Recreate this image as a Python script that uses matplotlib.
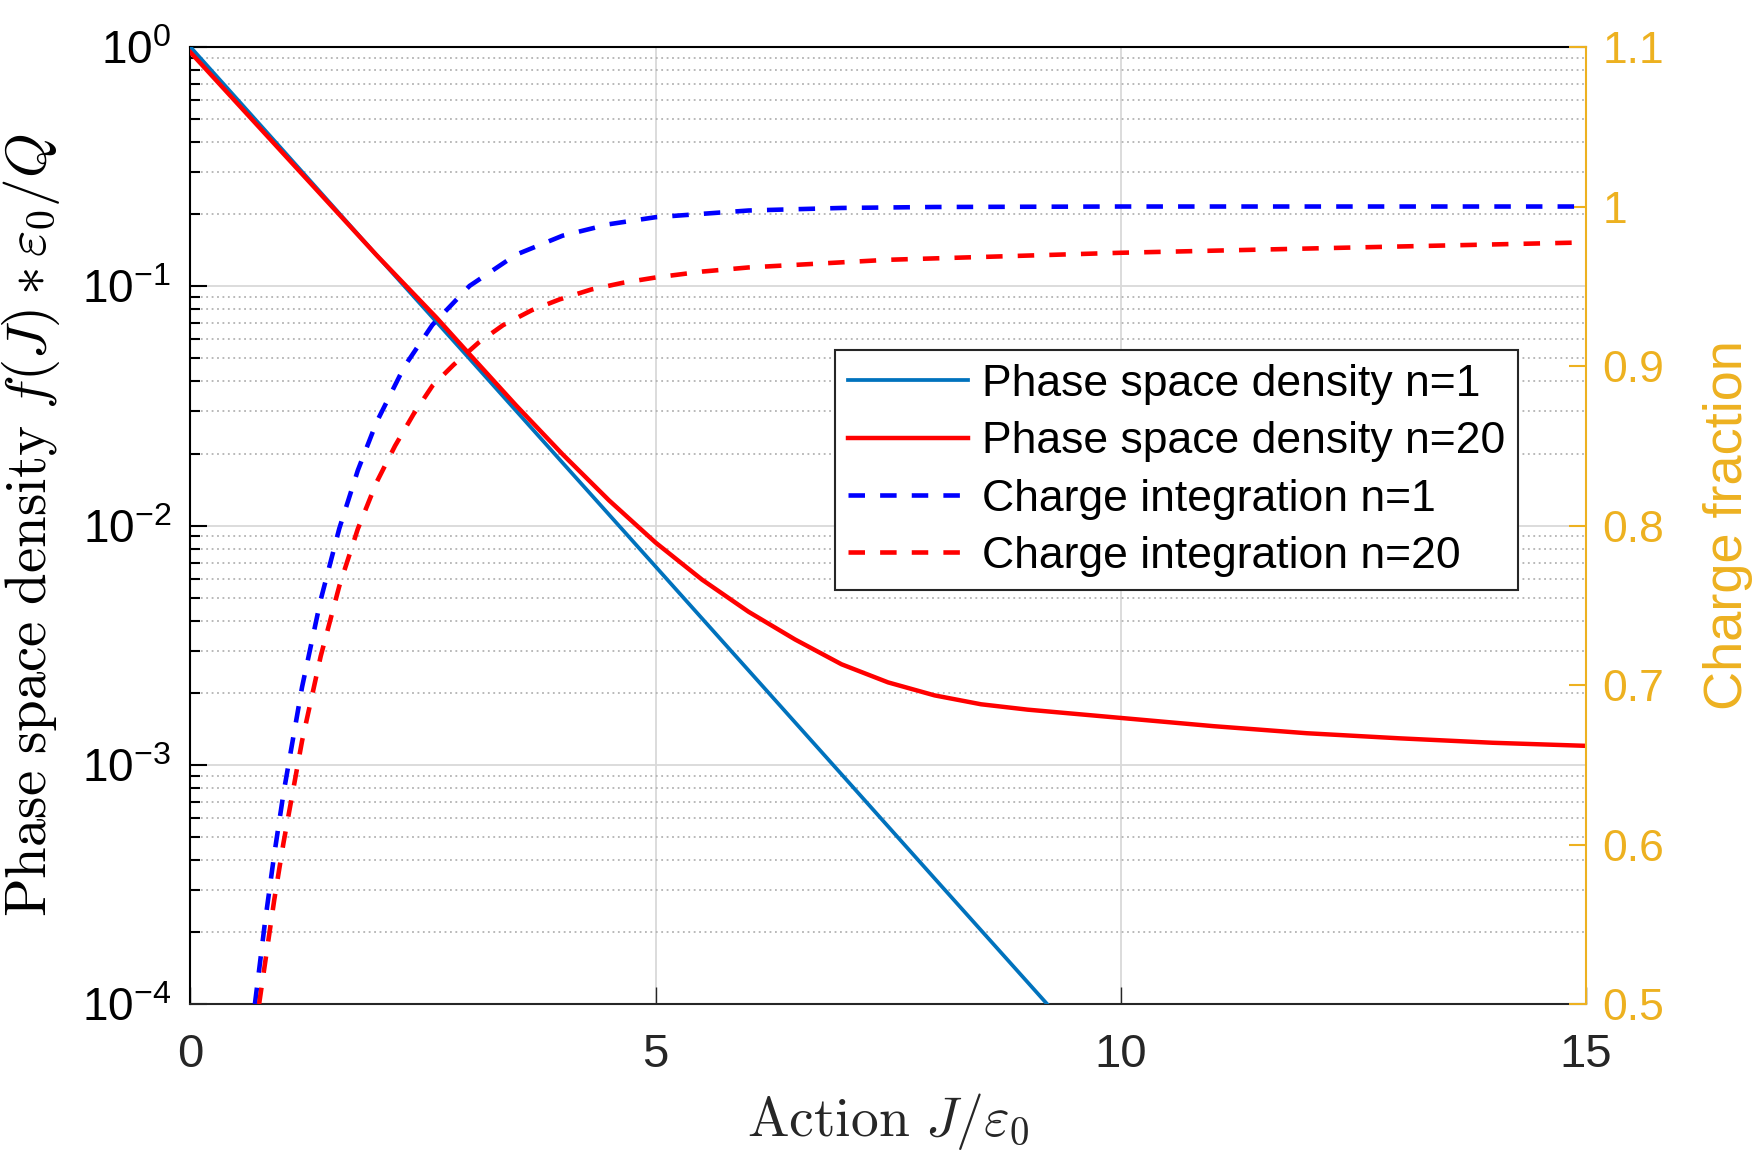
import matplotlib
matplotlib.use("Agg")
import matplotlib.pyplot as plt
from matplotlib.ticker import LogLocator, NullFormatter, NullLocator

# ---------------- data ----------------
J_dens_n1 = [0, 1, 2, 3, 4, 5, 6, 7, 8, 9.21]
f_dens_n1 = [1.0, 0.368, 0.135, 0.0498, 0.0183, 0.00674, 0.00248, 0.000912, 0.000335, 0.0001]

J_dens_n20 = [0, 1, 2, 2.644, 3.0, 3.5, 4.0, 4.5, 5.0, 5.5, 6.0, 6.5, 7.0, 7.5, 8.0, 8.5, 9.0,
              10, 11, 12, 13, 14, 15]
f_dens_n20 = [0.95, 0.358, 0.135, 0.0740, 0.0520, 0.0318, 0.01986, 0.01274, 0.00849, 0.00594,
              0.00436, 0.00334, 0.00263, 0.00221, 0.00195, 0.00179, 0.00170, 0.00157, 0.00145,
              0.001355, 0.00129, 0.001236, 0.0012]

J_charge_n1 = [0.693, 0.8, 0.9, 1.0, 1.2, 1.4, 1.6, 1.8, 2.0, 2.3, 2.6, 3.0, 3.5, 4.0, 4.5, 5, 6, 7, 8, 10, 15]
q_charge_n1 = [0.500, 0.5507, 0.5934, 0.6321, 0.6988, 0.7534, 0.7981, 0.8347, 0.8647, 0.8997, 0.9257,
               0.9502, 0.9698, 0.9817, 0.9889, 0.9933, 0.9975, 0.9991, 0.9997, 1.0, 1.0]

J_charge_n20 = [0.738, 0.9, 1.0, 1.2, 1.4, 1.6, 1.8, 2.0, 2.2, 2.4, 2.6, 2.826, 3.1, 3.36, 3.67,
                3.97, 4.31, 4.65, 5.0, 5.5, 6.0, 7.5, 10, 12.5, 15]
q_charge_n20 = [0.500, 0.565, 0.601, 0.665, 0.718, 0.762, 0.798, 0.827, 0.850, 0.870, 0.8875,
                0.9006, 0.9148, 0.9256, 0.935, 0.9418, 0.948, 0.9522, 0.9555, 0.9592, 0.9618,
                0.9666, 0.971, 0.9743, 0.9775]

x_ticks = [0, 5, 10, 15]
x_ticklabels = ["0", "5", "10", "15"]
y_ticks = [1e-4, 1e-3, 1e-2, 1e-1, 1]
y_ticklabels = [r"$\mathdefault{10^{-4}}$", r"$\mathdefault{10^{-3}}$", r"$\mathdefault{10^{-2}}$",
                r"$\mathdefault{10^{-1}}$", r"$\mathdefault{10^{0}}$"]
y2_ticks = [0.5, 0.6, 0.7, 0.8, 0.9, 1.0, 1.1]
y2_ticklabels = ["0.5", "0.6", "0.7", "0.8", "0.9", "1", "1.1"]

legend_labels = ["Phase space density n=1", "Phase space density n=20",
                 "Charge integration n=1", "Charge integration n=20"]

# ---------------- style ----------------
plt.rcParams["font.family"] = ["Liberation Sans", "DejaVu Sans"]
plt.rcParams["mathtext.fontset"] = "cm"

ORANGE = "#EDB120"
AXC = "#262626"
FS = 32

fig = plt.figure(figsize=(17.57, 11.55), dpi=100)
ax1 = fig.add_axes([0.1084, 0.1307, 0.7941, 0.8286])
ax2 = ax1.twinx()

# left axis: phase space density
l1, = ax1.plot(J_dens_n1, f_dens_n1, color="#0072BD", lw=2.7, zorder=3)
l2, = ax1.plot(J_dens_n20, f_dens_n20, color="#FF0000", lw=3.2, zorder=3)
ax1.set_yscale("log")
ax1.set_xlim(0, 15)
ax1.set_ylim(1e-4, 1)
ax1.set_xticks(x_ticks)
ax1.set_xticklabels(x_ticklabels)
ax1.set_yticks(y_ticks)
ax1.set_yticklabels(y_ticklabels)
ax1.yaxis.set_minor_locator(LogLocator(base=10, subs=[2, 3, 4, 5, 6, 7, 8, 9], numticks=20))
ax1.yaxis.set_minor_formatter(NullFormatter())
ax1.xaxis.set_minor_locator(NullLocator())

ax1.grid(which="major", axis="both", color="#d9d9d9", lw=1.3, ls="-", zorder=0)
ax1.grid(which="minor", axis="y", color="#b3b3b3", lw=1.3, ls=(0, (1, 2)), zorder=0)
ax1.set_axisbelow(True)

ax1.tick_params(axis="both", which="both", direction="in", top=False, right=False)
ax1.tick_params(axis="y", which="major", length=12, width=1.5, labelsize=33, pad=14, colors="black")
ax1.tick_params(axis="y", which="minor", length=7, width=1.5)
ax1.tick_params(axis="x", which="major", length=12, width=1.0, labelsize=34, pad=21,
                color=AXC, labelcolor=AXC)
for s in ["left", "top", "bottom"]:
    ax1.spines[s].set_color("black" if s != "bottom" else AXC)
    ax1.spines[s].set_linewidth(1.5)
ax1.spines["right"].set_visible(False)

ax1.set_xlabel(r"$\mathrm{Action}\ J/\varepsilon_0$", fontsize=40, color=AXC, labelpad=10)
ax1.set_ylabel(r"$\mathrm{Phase\ space\ density}\ f(J)*\varepsilon_0/Q$", fontsize=41,
               color="black")
ax1.yaxis.set_label_coords(-0.092, 0.5)

# right axis: charge fraction
l3, = ax2.plot(J_charge_n1, q_charge_n1, color="#0000FF", lw=3.3, ls=(0, (3.6, 3.3)))
l4, = ax2.plot(J_charge_n20, q_charge_n20, color="#FF0000", lw=3.3, ls=(0, (3.6, 3.3)))
ax2.set_ylim(0.5, 1.1)
ax2.set_yticks(y2_ticks)
ax2.set_yticklabels(y2_ticklabels)
ax2.tick_params(axis="y", which="major", direction="in", length=12, width=1.5, labelsize=FS,
                pad=12, colors=ORANGE)
for s in ["left", "top", "bottom"]:
    ax2.spines[s].set_visible(False)
ax2.spines["right"].set_color(ORANGE)
ax2.spines["right"].set_linewidth(1.5)
ax2.set_ylabel("Charge fraction", fontsize=39, color=ORANGE, labelpad=28)

leg = ax2.legend([l1, l2, l3, l4], legend_labels, loc="upper left",
                 bbox_to_anchor=(0.462, 0.683), borderaxespad=0, fontsize=FS,
                 fancybox=False, framealpha=1, edgecolor=AXC, handlelength=2.7,
                 handletextpad=0.3, labelspacing=0.37, borderpad=0.3)
leg.get_frame().set_linewidth(1.5)

fig.savefig("out.png", dpi=100)
